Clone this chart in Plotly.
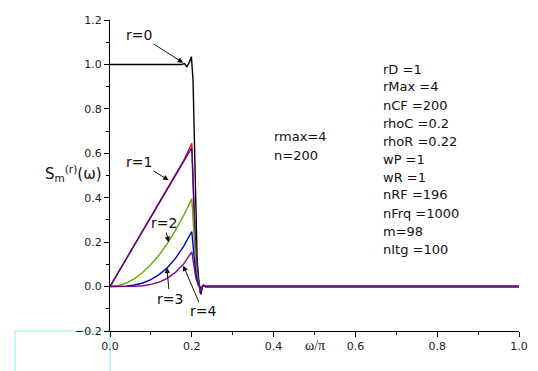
import plotly.graph_objects as go

# Frequency axis (omega / pi) for the passband ramps and the transition band
omega = [0.00, 0.02, 0.04, 0.06, 0.08, 0.10, 0.12, 0.14, 0.16, 0.18, 0.20,
         0.205, 0.21, 0.215, 0.219, 0.222, 0.226, 0.229, 0.233, 0.30, 1.00]

# r = 0 response (flat passband with a small overshoot at the band edge)
omega_r0 = [0.00, 0.05, 0.10, 0.15, 0.175, 0.182, 0.188, 0.194, 0.199, 0.203,
            0.206, 0.209, 0.213, 0.218, 0.221, 0.225, 0.229, 0.233, 0.30, 1.00]
s_r0 = [1.0, 1.0, 1.0, 1.0, 1.0, 1.004, 0.99, 1.01, 1.035, 0.93,
        0.70, 0.38, 0.12, 0.01, -0.03, 0.0, 0.006, 0.0, 0.0, 0.0]

# r = 1 .. 4 responses on the shared omega axis
s_r1_red = [0.0, 0.063, 0.126, 0.188, 0.251, 0.314, 0.377, 0.44, 0.503, 0.567, 0.645,
            0.37, 0.155, 0.04, 0.0, -0.025, 0.0, 0.006, 0.0, 0.0, 0.0]
s_r1 = [0.0, 0.063, 0.126, 0.188, 0.251, 0.314, 0.377, 0.44, 0.503, 0.562, 0.625,
        0.36, 0.15, 0.04, 0.0, -0.025, 0.0, 0.006, 0.0, 0.0, 0.0]
s_r2 = [0.0, 0.004, 0.016, 0.036, 0.063, 0.099, 0.142, 0.193, 0.253, 0.32, 0.395,
        0.23, 0.095, 0.025, 0.0, -0.03, 0.0, 0.005, 0.0, 0.0, 0.0]
s_r3 = [0.0, 0.0, 0.002, 0.007, 0.016, 0.031, 0.054, 0.085, 0.127, 0.181, 0.248,
        0.145, 0.06, 0.016, 0.0, -0.035, 0.0, 0.005, 0.0, 0.0, 0.0]
s_r4 = [0.0, 0.0, 0.0, 0.001, 0.004, 0.01, 0.02, 0.037, 0.064, 0.102, 0.156,
        0.09, 0.038, 0.01, 0.0, -0.02, 0.0, 0.004, 0.0, 0.0, 0.0]

# Tick values
x_ticks = [0.0, 0.2, 0.4, 0.6, 0.8, 1.0]
y_ticks = [-0.2, 0.0, 0.2, 0.4, 0.6, 0.8, 1.0, 1.2]

# Simulation parameters listed at the right
params = ["rD =1", "rMax =4", "nCF =200", "rhoC =0.2", "rhoR =0.22", "wP =1",
          "wR =1", "nRF =196", "nFrq =1000", "m=98", "nItg =100"]

FONT = "DejaVu Sans"
LW = 1.4

fig = go.Figure()
fig.add_trace(go.Scatter(x=omega_r0, y=s_r0, mode="lines", line=dict(color="black", width=LW)))
fig.add_trace(go.Scatter(x=omega, y=s_r1_red, mode="lines", line=dict(color="#ee1111", width=LW)))
fig.add_trace(go.Scatter(x=omega, y=s_r1, mode="lines", line=dict(color="#3c0a96", width=LW)))
fig.add_trace(go.Scatter(x=omega, y=s_r2, mode="lines", line=dict(color="#66aa00", width=LW)))
fig.add_trace(go.Scatter(x=omega, y=s_r3, mode="lines", line=dict(color="#0000c8", width=LW)))
fig.add_trace(go.Scatter(x=omega, y=s_r4, mode="lines", line=dict(color="#7a0a8c", width=LW)))

annotations = []

# Curve labels with arrows: (label, text x, text y, arrow head x, arrow head y)
curve_labels = [
    ("r=0", 0.072, 1.133, 0.179, 1.007),
    ("r=1", 0.071, 0.560, 0.1435, 0.479),
    ("r=2", 0.132, 0.286, 0.1435, 0.200),
    ("r=3", 0.146, -0.054, 0.139, 0.086),
    ("r=4", 0.227, -0.112, 0.179, 0.095),
]
for lab, tx, ty, hx, hy in curve_labels:
    annotations.append(dict(x=hx, y=hy, ax=tx, ay=ty, xref="x", yref="y",
                            axref="x", ayref="y", text=lab, showarrow=True,
                            xanchor="center", yanchor="middle",
                            arrowhead=2, arrowsize=1.1, arrowwidth=1, arrowcolor="#111",
                            font=dict(family=FONT, size=14, color="#111")))

annotations.append(dict(x=0.395, y=0.674, xref="x", yref="y", text="rmax=4", showarrow=False,
                        xanchor="left", font=dict(family=FONT, size=13, color="#111")))
annotations.append(dict(x=0.395, y=0.591, xref="x", yref="y", text="n=200", showarrow=False,
                        xanchor="left", font=dict(family=FONT, size=13, color="#111")))

# Plot-area geometry in pixels
L, R, T, B = 110, 10, 20, 40
W, H = 538, 371
pw, ph = W - L - R, H - T - B

# Parameter list, one line per entry, 18 px apart
for i, p in enumerate(params):
    annotations.append(dict(x=(386.7 - L) / pw, y=(H - B - (69 + 18 * i)) / ph,
                            xref="paper", yref="paper", text=p,
                            showarrow=False, xanchor="left", yanchor="middle",
                            font=dict(family=FONT, size=13, color="#111")))

# Axis titles
annotations.append(dict(x=0.5, y=-0.048, xref="x", yref="paper", text="ω/π", showarrow=False,
                        xanchor="center", yanchor="middle",
                        font=dict(family="Liberation Serif", size=14, color="#111")))
annotations.append(dict(x=(42 - L) / pw, y=(H - B - 173) / ph, xref="paper", yref="paper",
                        text="S<sub>m</sub><sup>(r)</sup>(ω)", showarrow=False,
                        xanchor="left", yanchor="middle",
                        font=dict(family=FONT, size=15, color="#111")))

fig.update_layout(
    width=W, height=H,
    margin=dict(l=L, r=R, t=T, b=B),
    paper_bgcolor="white", plot_bgcolor="white",
    showlegend=False,
    annotations=annotations,
    shapes=[dict(type="rect", xref="paper", yref="paper",
                 x0=(13 - L) / pw, x1=0, y0=-0.25, y1=0,
                 line=dict(color="#88eaea", width=1), layer="below")],
    xaxis=dict(range=[0, 1], tickvals=x_ticks, tickformat=".1f",
               showline=True, linecolor="black", linewidth=1,
               ticks="outside", ticklen=5, tickcolor="black",
               minor=dict(ticks="outside", ticklen=3, dtick=0.1, tickcolor="black"),
               showgrid=False, zeroline=False,
               tickfont=dict(family=FONT, size=11, color="#222")),
    yaxis=dict(range=[-0.2, 1.2], tickvals=y_ticks, tickformat=".1f",
               showline=True, linecolor="black", linewidth=1,
               ticks="outside", ticklen=5, tickcolor="black",
               minor=dict(ticks="outside", ticklen=3, dtick=0.1, tickcolor="black"),
               showgrid=False, zeroline=False,
               tickfont=dict(family=FONT, size=11, color="#222")),
)

fig.write_html("out.html")
